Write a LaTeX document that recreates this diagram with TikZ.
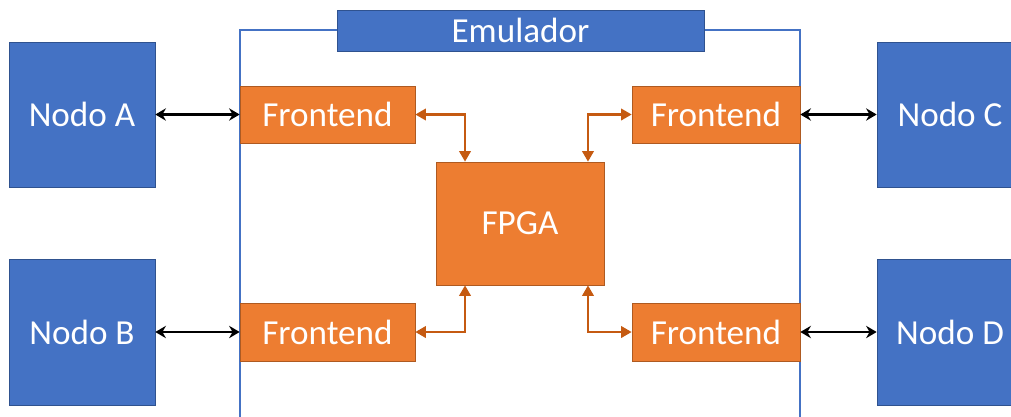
\documentclass[tikz,border=0pt]{standalone}
\usepackage{fontspec}
\setmainfont{Carlito}
\usetikzlibrary{arrows.meta}

\definecolor{nodeblue}{HTML}{4472C4}
\definecolor{nodeline}{HTML}{2F528F}
\definecolor{feorange}{HTML}{ED7D31}
\definecolor{feline}{HTML}{AE5A21}
\definecolor{linkbrown}{HTML}{C55A11}

\begin{document}
\begin{tikzpicture}[x=0.02cm,y=-0.02cm]
\clip (0,0) rectangle (1011,416);
\useasboundingbox (0,0) rectangle (1011,416);

% emulator frame
\draw[nodeblue, line width=0.7pt] (240,432) -- (240,30) -- (800,30) -- (800,432);

\begin{scope}[every node/.style={rectangle,draw=nodeline,fill=nodeblue,text=white,
              line width=0.4pt,inner sep=0pt,font=\fontsize{20}{24}\selectfont}]
    \node[minimum width=2.92cm, minimum height=2.9cm] (nodoA) at (82,114.5) {Nodo A};
    \node[minimum width=2.92cm, minimum height=2.92cm] (nodoB) at (82,332) {Nodo B};
    \node[minimum width=2.92cm, minimum height=2.9cm] (nodoC) at (950,114.5) {Nodo C};
    \node[minimum width=2.92cm, minimum height=2.92cm] (nodoD) at (950,332) {Nodo D};
    \node[minimum width=7.34cm, minimum height=0.82cm] (emulador) at (520.5,30.5) {Emulador};
\end{scope}

\begin{scope}[every node/.style={rectangle,draw=feline,fill=feorange,text=white,
              line width=0.4pt,inner sep=0pt,font=\fontsize{20}{24}\selectfont}]
    \node[minimum width=3.5cm, minimum height=1.14cm] (feA) at (327.5,114.5) {Frontend};
    \node[minimum width=3.5cm, minimum height=1.16cm] (feB) at (327.5,332) {Frontend};
    \node[minimum width=3.36cm, minimum height=1.14cm] (feC) at (716,114.5) {Frontend};
    \node[minimum width=3.36cm, minimum height=1.16cm] (feD) at (716,332) {Frontend};
    \node[minimum width=3.36cm, minimum height=2.46cm] (fpga) at (520,223.5) {FPGA};
\end{scope}

\begin{scope}[>={Stealth[length=6pt,width=7pt]},
              every edge/.style={draw=black,line width=1.6pt}]
    \path [<->] (nodoA) edge (feA);
    \path [<->] (nodoB) edge (feB);
    \path [<->] (feC) edge (nodoC);
    \path [<->] (feD) edge (nodoD);
\end{scope}

\begin{scope}[>={Triangle[length=6pt,width=6.5pt]},
              every edge/.style={draw=linkbrown,line width=1.3pt,
                                 to path={-| (\tikztotarget)}}]
    \path [<->] (feA) edge ([xshift=-1.1cm]fpga.north);
    \path [<->] (feC) edge ([xshift=1.36cm]fpga.north);
    \path [<->] (feB) edge ([xshift=-1.1cm]fpga.south);
    \path [<->] (feD) edge ([xshift=1.36cm]fpga.south);
\end{scope}
\end{tikzpicture}
\end{document}
